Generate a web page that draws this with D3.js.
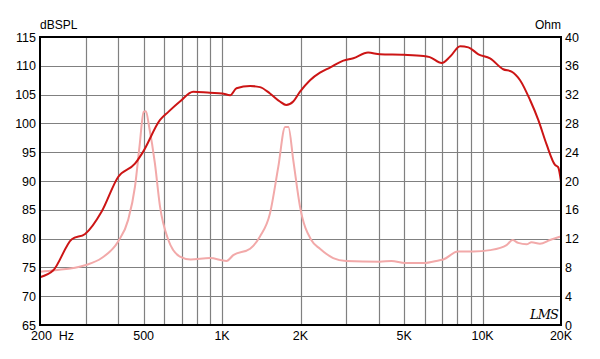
<!DOCTYPE html>
<html>
<head>
<meta charset="utf-8">
<script src="https://cdn.jsdelivr.net/npm/d3@7"></script>
<style>
  body { margin: 0; background: #fff; }
  svg text { font-family: "Liberation Sans", Arial, sans-serif; fill: #000; }
</style>
</head>
<body>
<svg id="chart" width="600" height="359"></svg>
<script>
// SPL response (Hz, dBSPL)
const splFreq = [200, 225, 265, 298, 345, 399, 463, 498, 578, 622, 689, 775, 898, 1000, 1074, 1136, 1281, 1398, 1527, 1667, 1762, 1876, 1992, 2176, 2376, 2594, 2921, 3190, 3634, 4033, 4966, 5929, 6268, 6970, 7510, 8200, 8820, 9640, 10680, 12000, 12920, 13930, 15200, 16360, 17620, 18970, 19500, 20000];
const splDb = [73.3, 74.5, 79.9, 80.8, 84.7, 90.7, 93.0, 95.1, 100.6, 102.0, 103.8, 105.5, 105.3, 105.2, 104.9, 106.1, 106.5, 106.3, 105.2, 103.8, 103.2, 103.8, 105.5, 107.5, 108.8, 109.7, 110.9, 111.3, 112.3, 112.0, 111.9, 111.7, 111.5, 110.5, 111.6, 113.4, 113.2, 112.0, 111.3, 109.4, 109.0, 107.5, 104.1, 100.6, 96.3, 92.8, 92.4, 89.9];

// Impedance (Hz, Ohm)
const impFreq = [200, 228, 298, 345, 399, 436, 463, 482, 500, 510, 525, 552, 578, 622, 689, 757, 898, 1040, 1104, 1281, 1398, 1527, 1644, 1746, 1797, 1876, 1992, 2200, 2376, 2670, 2990, 4033, 4470, 5040, 5929, 6840, 7060, 8040, 9240, 10680, 12360, 13040, 13700, 14760, 15410, 16600, 18150, 20000];
const impOhm = [7.4, 7.6, 8.3, 9.3, 11.6, 14.6, 19.2, 24.8, 29.6, 29.7, 27.5, 22.5, 16.4, 11.8, 9.5, 9.1, 9.3, 8.9, 9.7, 10.6, 12.3, 15.5, 22.0, 27.5, 27.5, 22.9, 16.4, 11.8, 10.6, 9.3, 8.9, 8.8, 8.9, 8.6, 8.6, 9.0, 9.1, 10.2, 10.2, 10.4, 11.1, 11.8, 11.4, 11.2, 11.5, 11.3, 11.8, 12.3];

// Axis ticks
const gridFreqs = [300, 400, 500, 600, 700, 800, 900, 1000, 2000, 3000, 4000, 5000, 6000, 7000, 8000, 9000, 10000];
const freqLabels = [[500, "500"], [1000, "1K"], [2000, "2K"], [5000, "5K"], [10000, "10K"], [20000, "20K"]];
const dbTicks = [65, 70, 75, 80, 85, 90, 95, 100, 105, 110, 115];
const ohmTicks = [0, 4, 8, 12, 16, 20, 24, 28, 32, 36, 40];

const svg = d3.select("#chart");
const plotLeft = 40, plotRight = 561, plotTop = 37, plotBottom = 325;

const x = d3.scaleLog().domain([200, 20000]).range([plotLeft, plotRight]);
const yDb = d3.scaleLinear().domain([65, 115]).range([plotBottom, plotTop]);
const yOhm = d3.scaleLinear().domain([0, 40]).range([plotBottom, plotTop]);

// Grid
svg.append("g")
  .selectAll("line")
  .data(gridFreqs)
  .join("line")
  .attr("x1", d => Math.round(x(d)) + 0.5)
  .attr("x2", d => Math.round(x(d)) + 0.5)
  .attr("y1", plotTop)
  .attr("y2", plotBottom)
  .attr("stroke", "#808080")
  .attr("stroke-width", 1.2);

svg.append("g")
  .selectAll("line")
  .data(dbTicks.slice(1, -1))
  .join("line")
  .attr("x1", plotLeft)
  .attr("x2", plotRight)
  .attr("y1", d => Math.round(yDb(d)) + 0.5)
  .attr("y2", d => Math.round(yDb(d)) + 0.5)
  .attr("stroke", "#808080")
  .attr("stroke-width", 1.2);

// Curves
const splLine = d3.line()
  .x((d, i) => x(splFreq[i]))
  .y(d => yDb(d))
  .curve(d3.curveMonotoneX);

const impLine = d3.line()
  .x((d, i) => x(impFreq[i]))
  .y(d => yOhm(d))
  .curve(d3.curveMonotoneX);

svg.append("path")
  .datum(impOhm)
  .attr("d", impLine)
  .attr("fill", "none")
  .attr("stroke", "#f2a9a9")
  .attr("stroke-width", 2);

svg.append("path")
  .datum(splDb)
  .attr("d", splLine)
  .attr("fill", "none")
  .attr("stroke", "#cc1515")
  .attr("stroke-width", 2);

// Frame
svg.append("rect")
  .attr("x", plotLeft)
  .attr("y", plotTop)
  .attr("width", plotRight - plotLeft)
  .attr("height", plotBottom - plotTop)
  .attr("fill", "none")
  .attr("stroke", "#000")
  .attr("stroke-width", 2);

// Left axis labels
svg.append("g")
  .selectAll("text")
  .data(dbTicks)
  .join("text")
  .attr("x", 36)
  .attr("y", d => yDb(d) + 4.5)
  .attr("text-anchor", "end")
  .style("font-size", "12.5px")
  .text(d => d);

// Right axis labels
svg.append("g")
  .selectAll("text")
  .data(ohmTicks)
  .join("text")
  .attr("x", 565)
  .attr("y", d => yOhm(d) + 4.5)
  .style("font-size", "12.5px")
  .text(d => d);

// Bottom labels
svg.append("text")
  .attr("x", 31)
  .attr("y", 340)
  .style("font-size", "12.5px")
  .attr("xml:space", "preserve")
  .text("200  Hz");

svg.append("g")
  .selectAll("text")
  .data(freqLabels)
  .join("text")
  .attr("x", d => x(d[0]))
  .attr("y", 340)
  .attr("text-anchor", "middle")
  .style("font-size", "12.5px")
  .text(d => d[1]);

// Units
svg.append("text")
  .attr("x", 40)
  .attr("y", 29)
  .style("font-size", "12px")
  .text("dBSPL");

svg.append("text")
  .attr("x", 561)
  .attr("y", 29)
  .attr("text-anchor", "end")
  .style("font-size", "12px")
  .text("Ohm");

// LMS mark
svg.append("text")
  .attr("x", 530)
  .attr("y", 319)
  .style("font-size", "13px")
  .style("font-style", "italic")
  .style("font-family", "'DejaVu Serif', serif")
  .style("letter-spacing", "-1px")
  .text("LMS");
</script>
</body>
</html>
